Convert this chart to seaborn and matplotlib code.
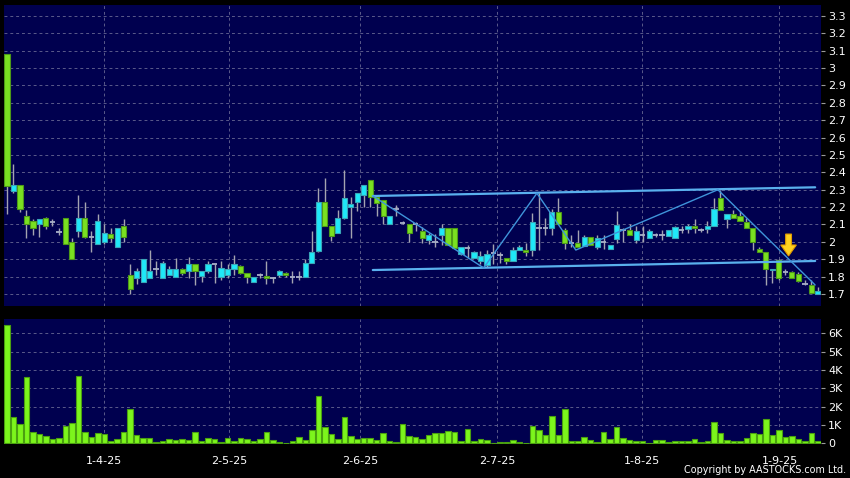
import numpy as np
import pandas as pd
import matplotlib
matplotlib.use("Agg")
import matplotlib.pyplot as plt
import seaborn as sns

# daily candles (HKD)
opens = [3.08, 2.29, 2.33, 2.15, 2.12, 2.10, 2.14, 2.117, 2.056, 2.14,
         2.00, 2.06, 2.14, 2.028, 1.99, 2.00, 2.047, 1.97, 2.09, 1.81,
         1.79, 1.77, 1.79, 1.846, 1.79, 1.81, 1.80, 1.846, 1.83, 1.874,
         1.805, 1.83, 1.873, 1.80, 1.81, 1.846, 1.86, 1.822, 1.77, 1.81,
         1.806, 1.79, 1.808, 1.822, 1.80, 1.80, 1.80, 1.877, 1.95, 2.228,
         2.09, 2.05, 2.14, 2.20, 2.23, 2.27, 2.358, 2.26, 2.24, 2.10,
         2.19, 2.11, 2.10, 2.10, 2.06, 2.013, 2.00, 2.037, 2.08, 2.08,
         1.93, 1.965, 1.91, 1.888, 1.866, 1.935, 1.923, 1.91, 1.892, 1.953,
         1.955, 1.955, 2.078, 2.078, 2.08, 2.17, 2.07, 1.994, 1.994, 1.975,
         2.03, 1.97, 2.00, 1.96, 2.018, 2.067, 2.07, 2.013, 2.037, 2.022,
         2.037, 2.04, 2.032, 2.022, 2.068, 2.075, 2.09, 2.067, 2.075, 2.09,
         2.25, 2.133, 2.16, 2.146, 2.117, 2.08, 1.958, 1.944, 1.836, 1.894,
         1.828, 1.828, 1.817, 1.758, 1.751, 1.699]
highs = [3.08, 2.45, 2.33, 2.185, 2.13, 2.13, 2.145, 2.13, 2.08, 2.14,
         2.02, 2.27, 2.23, 2.06, 2.16, 2.10, 2.08, 2.08, 2.13, 1.87,
         1.85, 1.90, 1.955, 1.89, 1.89, 1.86, 1.905, 1.85, 1.915, 1.874,
         1.83, 1.89, 1.875, 1.89, 1.875, 1.923, 1.865, 1.822, 1.80, 1.82,
         1.89, 1.795, 1.84, 1.826, 1.83, 1.83, 1.90, 2.064, 2.308, 2.369,
         2.09, 2.184, 2.414, 2.26, 2.28, 2.33, 2.358, 2.27, 2.24, 2.146,
         2.21, 2.12, 2.10, 2.117, 2.083, 2.05, 2.045, 2.10, 2.08, 2.08,
         1.969, 1.98, 1.95, 1.945, 1.955, 1.99, 1.94, 1.91, 1.97, 1.984,
         1.996, 2.165, 2.28, 2.14, 2.19, 2.255, 2.08, 2.04, 2.07, 2.04,
         2.03, 2.04, 2.04, 1.984, 2.175, 2.08, 2.10, 2.09, 2.09, 2.075,
         2.05, 2.07, 2.07, 2.09, 2.09, 2.10, 2.133, 2.077, 2.12, 2.25,
         2.30, 2.16, 2.185, 2.175, 2.14, 2.08, 1.97, 1.944, 1.845, 1.90,
         1.845, 1.835, 1.825, 1.78, 1.78, 1.74]
lows = [2.16, 2.28, 2.17, 2.02, 2.04, 2.03, 2.075, 2.09, 2.04, 1.985,
        1.90, 2.03, 2.02, 1.94, 1.99, 1.99, 2.00, 1.97, 2.00, 1.70,
        1.755, 1.77, 1.79, 1.81, 1.79, 1.81, 1.80, 1.81, 1.79, 1.75,
        1.77, 1.82, 1.765, 1.78, 1.79, 1.81, 1.815, 1.764, 1.77, 1.79,
        1.755, 1.765, 1.80, 1.80, 1.765, 1.78, 1.80, 1.877, 1.942, 2.09,
        2.007, 2.05, 2.13, 2.02, 2.178, 2.203, 2.203, 2.146, 2.10, 2.10,
        2.146, 2.10, 2.00, 2.06, 1.994, 1.985, 1.97, 1.984, 1.98, 1.965,
        1.923, 1.91, 1.905, 1.87, 1.854, 1.87, 1.88, 1.87, 1.892, 1.953,
        1.92, 1.917, 1.953, 2.04, 2.037, 2.10, 1.96, 1.97, 1.97, 1.975,
        1.98, 1.96, 1.96, 1.96, 1.994, 2.00, 2.037, 1.994, 2.00, 2.022,
        2.03, 2.01, 2.032, 2.022, 2.05, 2.05, 2.05, 2.057, 2.05, 2.09,
        2.184, 2.08, 2.14, 2.12, 2.08, 1.955, 1.944, 1.753, 1.763, 1.78,
        1.81, 1.79, 1.77, 1.75, 1.705, 1.699]
closes = [2.32, 2.33, 2.19, 2.10, 2.08, 2.13, 2.09, 2.117, 2.056, 1.99,
          1.90, 2.14, 2.03, 2.028, 2.12, 2.05, 2.022, 2.08, 2.03, 1.73,
          1.83, 1.90, 1.83, 1.846, 1.88, 1.846, 1.846, 1.82, 1.874, 1.83,
          1.83, 1.874, 1.873, 1.85, 1.846, 1.874, 1.822, 1.80, 1.80, 1.81,
          1.793, 1.79, 1.83, 1.808, 1.80, 1.80, 1.877, 1.942, 2.228, 2.09,
          2.032, 2.14, 2.25, 2.22, 2.28, 2.33, 2.26, 2.222, 2.146, 2.146,
          2.19, 2.11, 2.05, 2.10, 2.022, 2.04, 2.00, 2.08, 1.984, 1.965,
          1.969, 1.965, 1.942, 1.917, 1.93, 1.935, 1.923, 1.888, 1.955, 1.969,
          1.942, 2.117, 2.078, 2.078, 2.17, 2.10, 1.994, 1.994, 1.97, 2.03,
          1.984, 2.02, 2.00, 1.984, 2.098, 2.067, 2.037, 2.06, 2.037, 2.06,
          2.037, 2.04, 2.07, 2.083, 2.068, 2.09, 2.08, 2.067, 2.093, 2.19,
          2.184, 2.16, 2.14, 2.12, 2.08, 2.00, 1.944, 1.844, 1.842, 1.792,
          1.828, 1.792, 1.772, 1.758, 1.708, 1.72]
# volume in thousands of shares
vol_k = [6.44, 1.45, 1.07, 3.64, 0.64, 0.52, 0.41, 0.24, 0.30, 0.96,
         1.11, 3.65, 0.60, 0.32, 0.55, 0.50, 0.12, 0.24, 0.64, 1.85,
         0.45, 0.28, 0.28, 0.05, 0.13, 0.23, 0.20, 0.26, 0.18, 0.64,
         0.14, 0.28, 0.22, 0.09, 0.28, 0.13, 0.31, 0.22, 0.13, 0.23,
         0.63, 0.18, 0.05, 0.02, 0.12, 0.36, 0.17, 0.75, 2.60, 0.91,
         0.49, 0.21, 1.45, 0.42, 0.24, 0.31, 0.31, 0.16, 0.55, 0.12,
         0.08, 1.05, 0.38, 0.32, 0.26, 0.45, 0.55, 0.58, 0.69, 0.62,
         0.13, 0.76, 0.13, 0.24, 0.18, 0.02, 0.09, 0.07, 0.18, 0.09,
         0.04, 0.96, 0.73, 0.45, 1.47, 0.45, 1.89, 0.13, 0.13, 0.33,
         0.18, 0.07, 0.60, 0.25, 0.89, 0.31, 0.18, 0.13, 0.13, 0.04,
         0.16, 0.16, 0.07, 0.13, 0.13, 0.13, 0.24, 0.07, 0.13, 1.15,
         0.56, 0.18, 0.13, 0.13, 0.27, 0.56, 0.51, 1.31, 0.47, 0.71,
         0.36, 0.40, 0.24, 0.15, 0.58, 0.13]

date_labels = ["1-4-25", "2-5-25", "2-6-25", "2-7-25", "1-8-25", "1-9-25"]
date_pos = [15, 34.3, 54.5, 75.6, 97.9, 119.1]

# hand drawn trend lines (bar index, price)
zig_x = [56.4, 73.5, 81.7, 87.7, 109.6, 124.6]
zig_y = [2.264, 1.85, 2.28, 1.953, 2.30, 1.752]
chan_x = [56.4, 124.6]
chan_upper = [2.264, 2.314]
chan_lower = [1.838, 1.890]
arrow_x, arrow_top, arrow_tip = 120.5, 2.045, 1.919

price_ticks = np.round(np.arange(1.7, 3.31, 0.1), 1)
vol_ticks = [0, 1, 2, 3, 4, 5, 6]

df = pd.DataFrame({"o": opens, "h": highs, "l": lows, "c": closes, "v": vol_k})
df["i"] = np.arange(len(df))

sns.set_style("dark")
plt.rcParams["font.family"] = ["DejaVu Sans"]

fig = plt.figure(figsize=(8.5, 4.78), dpi=100, facecolor="black")
ax = fig.add_axes([4 / 850, 172 / 478, 817 / 850, 301 / 478])
axv = fig.add_axes([4 / 850, 34 / 478, 817 / 850, 125 / 478])

bg = "#00004f"
grid_c = "#5a5a8a"
for a in (ax, axv):
    a.set_facecolor(bg)
    for s in a.spines.values():
        s.set_visible(False)
    a.set_xlim(-0.46, 125.5)
    a.set_xticks(date_pos)
    a.grid(True, color=grid_c, ls=(0, (3, 3)), lw=0.7)
    a.set_axisbelow(True)
    a.yaxis.tick_right()
    a.tick_params(axis="y", colors="white", labelcolor="white", length=3,
                  width=0.8, labelsize=8, pad=2)
    a.tick_params(axis="y", color="#9a9a9a")

# candles
up = df[df.c > df.o]
dn = df[df.c < df.o]
flat = df[df.c == df.o]
ax.vlines(df.i, df.l, df.h, color="#a4a4b0", lw=1, zorder=2)
ax.bar(up.i, (up.c - up.o).clip(lower=0.006), bottom=up.o, width=0.8,
       color="#1fe8f8", edgecolor="#3aa6b8", lw=0.8, zorder=3)
ax.bar(dn.i, (dn.o - dn.c).clip(lower=0.006), bottom=dn.c, width=0.8,
       color="#7ae021", edgecolor="#4d9a18", lw=0.8, zorder=3)
ax.hlines(flat.c, flat.i - 0.42, flat.i + 0.42, color="#a8b0c8", lw=1.3, zorder=3)

# trend lines
sns.lineplot(x=chan_x, y=chan_upper, ax=ax, color="#5ab0ee", lw=1.6, zorder=4)
sns.lineplot(x=chan_x, y=chan_lower, ax=ax, color="#5ab0ee", lw=1.6, zorder=4)
sns.lineplot(x=zig_x, y=zig_y, ax=ax, color="#3f94da", lw=1.0, zorder=4, sort=False)

# yellow arrow
hw, sw, neck = 1.2, 0.45, arrow_tip + 0.063
ax.fill([arrow_x - sw, arrow_x + sw, arrow_x + sw, arrow_x + hw, arrow_x,
         arrow_x - hw, arrow_x - sw],
        [arrow_top, arrow_top, neck, neck, arrow_tip, neck, neck],
        facecolor="#ffd21f", edgecolor="#e09a00", lw=0.8, zorder=5)

ax.set_ylim(1.631, 3.363)
ax.set_yticks(price_ticks)
ax.set_yticklabels([f"{t:g}" for t in price_ticks])
ax.tick_params(axis="x", length=0, labelbottom=False)
ax.set_xlabel("")
ax.set_ylabel("")

# volume
sns.barplot(data=df, x="i", y="v", ax=axv, native_scale=True, width=0.85,
            color="#7cf51c", edgecolor="#4aa010", lw=0.8, errorbar=None,
            saturation=1, zorder=3)
axv.set_xlim(-0.46, 125.5)
axv.set_ylim(-0.04, 6.78)
axv.set_yticks(vol_ticks)
axv.set_yticklabels(["0"] + [f"{t}K" for t in vol_ticks[1:]])
axv.set_xticks(date_pos)
axv.set_xticklabels(date_labels)
axv.tick_params(axis="x", colors="#9a9a9a", labelcolor="white", length=3,
                labelsize=8, pad=6)
axv.set_xlabel("")
axv.set_ylabel("")

fig.text(846 / 850, 8 / 478, "Copyright by AASTOCKS.com Ltd.", ha="right",
         va="center", color="white", fontsize=6.9)

fig.savefig("out.png", dpi=100, facecolor="black")
